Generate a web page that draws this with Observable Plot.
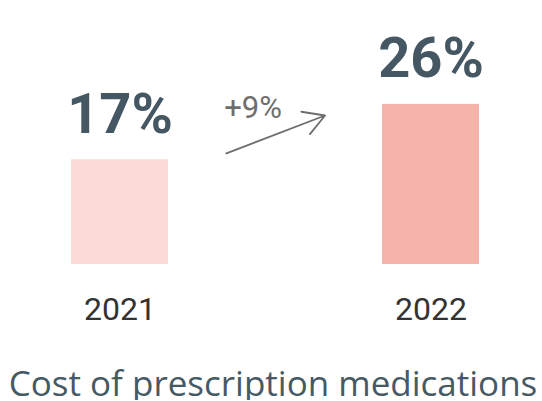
<!DOCTYPE html>
<html>
<head>
<meta charset="utf-8">
<script src="https://cdn.jsdelivr.net/npm/d3@7"></script>
<script src="https://cdn.jsdelivr.net/npm/@observablehq/plot@0.6"></script>
<style>
  html, body { margin: 0; padding: 0; background: #fff; overflow: hidden; }
  #chart svg { display: block; }
  #title {
    font-family: "Open Sans", sans-serif;
    font-size: 35px;
    line-height: 35px;
    color: #455a64;
    text-align: center;
    width: 542px;
    white-space: nowrap;
    margin-left: 2px;
  }
</style>
</head>
<body>
<div id="chart"></div>
<div id="title">Cost of prescription medications</div>
<script>
const years = ["2021", "2022"];
const values = [17, 26];
const barColors = ["#fadbd8", "#f6b3ab"];
// annotation arrow endpoints (in data units) for the change between years
const arrowY = [11.4, 30.8];

const data = years.map((year, i) => ({year, value: values[i], color: barColors[i]}));
const change = values[1] - values[0];
const arrowData = [{from: years[0], to: years[1], y1: arrowY[0], y2: arrowY[1], label: `+${change}%`}];

const chart = Plot.plot({
  width: 542,
  height: 365,
  marginLeft: 71,
  marginRight: 62.5,
  marginTop: 0,
  marginBottom: 101,
  x: {type: "band", domain: years, paddingInner: 0.6886, paddingOuter: 0, label: null},
  y: {domain: [0, 42.86], axis: null},
  style: {background: "#fff"},
  marks: [
    Plot.barY(data, {x: "year", y: "value", fill: "color"}),
    Plot.text(data, {
      x: "year", y: "value", text: d => `${d.value}%`,
      lineAnchor: "bottom", dy: -27,
      fontSize: 56, fontWeight: "bold", fontFamily: "Roboto",
      fill: "#455763"
    }),
    Plot.arrow(arrowData, {
      x1: "from", x2: "to", y1: "y1", y2: "y2",
      insetStart: 114, insetEnd: 113.5,
      headLength: 20, headAngle: 60,
      stroke: "#6e6e6e", strokeWidth: 1.8, bend: 0
    }),
    Plot.text(arrowData, {
      x: "from", y: () => values[0], text: "label",
      lineAnchor: "bottom", dx: 133, dy: -42,
      fontSize: 31, fontFamily: "Roboto", fill: "#6e6e6e"
    }),
    Plot.axisX({
      tickSize: 0, tickPadding: 32.8, fontSize: 32, fontFamily: "Roboto",
      color: "#333", label: null
    })
  ]
});
document.getElementById("chart").appendChild(chart);
</script>
</body>
</html>
